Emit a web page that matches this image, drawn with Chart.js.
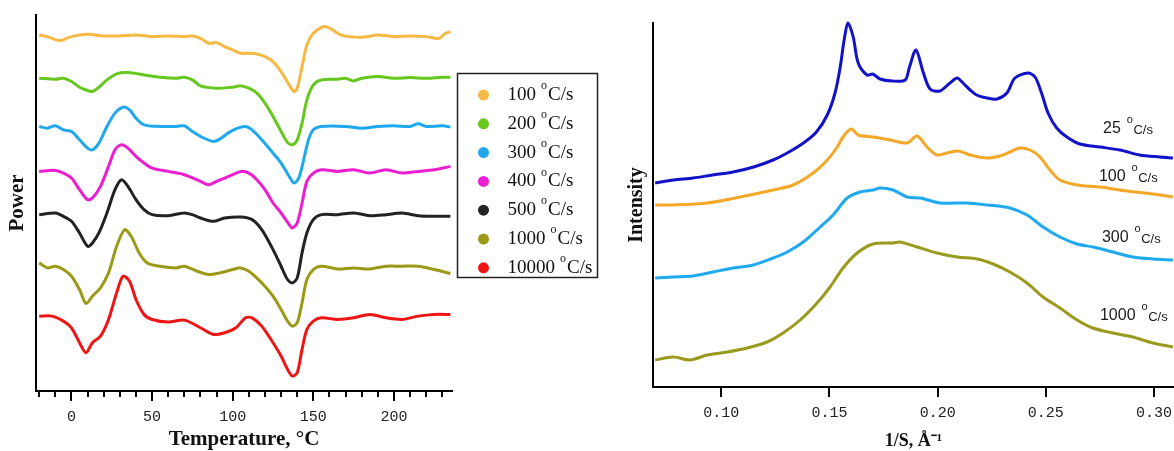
<!DOCTYPE html>
<html><head><meta charset="utf-8">
<script src="https://cdn.jsdelivr.net/npm/chart.js@4.4.1/dist/chart.umd.min.js"></script>
<style>
html,body{margin:0;padding:0;background:#fff;width:1174px;height:451px;overflow:hidden;}
#wl{position:absolute;left:0;top:0;width:600px;height:451px;}
#wr{position:absolute;left:620px;top:0;width:554px;height:451px;}
</style></head><body>
<div id="wl"><canvas id="cl" width="600" height="451"></canvas></div>
<div id="wr"><canvas id="cr" width="554" height="451"></canvas></div>
<script>
// ---------- Left panel: DSC curves (Power vs Temperature) ----------
const rates = ['100','200','300','400','500','1000','10000'];
const t100 = [-20,-15,-7,0,10,20,30,40,50,60,70,75,80,85,90,95,100,105,110,115,120,125,130,135,138,140,143,146,150,155,158,162,167,172,180,190,200,210,220,228,232,235];
const p100 = [1070,1065,1053,1065,1072,1067,1067,1070,1065,1067,1065,1067,1060,1045,1047,1035,1025,1015,1015,1013,1005,990,960,920,900,910,975,1040,1075,1093,1095,1085,1070,1065,1063,1070,1065,1067,1065,1060,1075,1080];
const t200 = [-20,-10,-5,0,5,10,13,17,22,28,35,45,55,65,70,75,80,90,100,105,110,115,120,125,130,134,137,140,143,146,150,155,165,170,175,180,190,200,210,220,230,235];
const p200 = [940,937,940,930,913,903,900,913,935,953,957,950,943,940,943,935,917,910,913,917,910,895,865,825,780,747,740,755,805,875,920,935,937,940,932,940,945,940,942,940,943,943];
const t300 = [-20,-15,-10,-5,0,5,10,13,17,22,27,32,36,40,45,55,65,70,75,80,88,92,97,103,108,112,118,125,130,135,138,141,144,147,150,155,170,180,190,200,210,215,220,230,235];
const p300 = [795,790,797,785,780,755,730,725,745,795,835,853,845,820,800,795,795,797,780,765,750,757,775,790,795,785,755,715,685,645,625,640,695,755,785,795,795,790,795,797,795,803,795,797,793];
const t400 = [-20,-10,-5,0,5,10,13,18,23,27,31,35,40,45,50,60,70,80,85,90,95,100,105,110,115,120,125,130,135,137,140,143,146,150,155,165,175,185,195,205,215,225,235];
const p400 = [660,663,655,640,605,575,580,615,675,725,740,730,705,685,670,660,650,630,620,630,640,650,660,655,635,605,565,535,500,490,505,565,630,655,665,660,665,655,665,655,660,665,675];
const t500 = [-20,-10,-5,0,5,10,13,17,22,27,31,35,40,45,50,60,70,75,80,88,95,105,112,118,125,130,134,137,140,143,146,150,155,165,175,185,195,205,215,225,235];
const p500 = [530,535,525,510,475,435,445,475,535,605,635,615,575,545,530,527,535,530,520,510,520,523,515,485,425,375,335,325,340,415,475,515,530,530,535,527,530,535,527,525,525];
const t1000 = [-20,-15,-10,-5,0,5,9,13,18,23,28,33,37,42,47,55,65,70,78,85,92,100,105,110,118,125,130,134,137,140,143,146,150,155,165,175,185,195,205,215,225,235];
const p1000 = [385,370,375,365,345,305,263,285,310,355,435,485,465,415,385,375,370,375,360,350,355,365,370,360,325,285,245,210,195,205,265,335,365,375,367,370,367,375,375,375,365,353];
const t10000 = [-20,-12,-5,0,5,9,13,18,23,28,32,36,40,45,50,60,70,80,88,95,102,108,112,118,125,130,134,137,140,143,146,150,155,165,175,185,195,205,215,225,235];
const p10000 = [225,225,210,190,145,115,145,165,215,295,345,330,275,230,215,207,213,190,170,175,190,220,220,195,145,105,65,45,55,125,185,210,220,215,220,230,220,215,225,230,230];
const tempTicks = [0,50,100,150,200];

// ---------- Right panel: X-ray intensity vs 1/S ----------
const waxsRates = ['25','100','300','1000'];
const s25 = [0.0695,0.078,0.087,0.096,0.1055,0.115,0.124,0.1305,0.138,0.144,0.149,0.1526,0.155,0.1568,0.1586,0.161,0.1633,0.1674,0.170,0.1734,0.179,0.185,0.187,0.190,0.1933,0.1965,0.201,0.2057,0.209,0.2117,0.215,0.218,0.2228,0.2274,0.232,0.2357,0.2417,0.245,0.248,0.251,0.255,0.2597,0.2657,0.275,0.2842,0.2934,0.3027,0.3087];
const i25 = [204,207,209,212,215,220,227,234,244,255,272,294,320,347,364,350,324,312,313,308,306,307,320,337,315,298,296,304,309,304,297,292,289,288,294,309,314,310,294,274,259,250,243,240,237,232,230,229];
const s100 = [0.0695,0.0778,0.0935,0.1088,0.124,0.1332,0.1425,0.149,0.1536,0.1563,0.160,0.1633,0.1702,0.178,0.1859,0.1905,0.1951,0.1997,0.2043,0.2094,0.215,0.2228,0.2288,0.2334,0.238,0.2427,0.2473,0.2519,0.2565,0.2644,0.275,0.2874,0.2994,0.3087];
const i100 = [182,182,184,190,197,202,214,227,240,250,258,252,250,247,244,251,240,232,234,236,232,229,231,235,239,237,230,217,207,202,200,196,193,190];
const s300 = [0.0695,0.0778,0.087,0.0963,0.1055,0.1148,0.124,0.1305,0.1379,0.1457,0.1517,0.1582,0.1642,0.1702,0.1734,0.1794,0.1859,0.1919,0.2011,0.2136,0.2228,0.2334,0.2413,0.2487,0.2565,0.2644,0.2717,0.281,0.2902,0.2994,0.3087];
const i300 = [109,110,111,115,119,122,129,135,145,160,172,189,195,197,199,197,190,189,184,184,182,179,172,160,150,143,140,135,130,128,127];
const s1000 = [0.0695,0.0778,0.0857,0.0935,0.1028,0.112,0.1212,0.1286,0.1365,0.1443,0.1503,0.1563,0.1628,0.1702,0.1794,0.1826,0.1905,0.1997,0.209,0.2182,0.2256,0.2334,0.2413,0.2487,0.2565,0.2644,0.2717,0.281,0.2902,0.2994,0.3087];
const i1000 = [27,30,27,32,35,39,45,54,67,84,100,119,134,143,144,145,140,134,130,128,123,115,104,90,79,67,59,54,50,44,40];
const sTicks = [0.10,0.15,0.20,0.25,0.30];

const pts = (xs, ys) => xs.map((x, i) => ({x: x, y: ys[i]}));

// ---------- plugins ----------
const boxLegend = {
  id: 'boxLegend',
  afterDraw(chart, args, o) {
    const ctx = chart.ctx;
    ctx.save();
    ctx.strokeStyle = '#222'; ctx.lineWidth = 1.5;
    ctx.strokeRect(o.x, o.y, o.w, o.h);
    ctx.textBaseline = 'middle';
    chart.data.datasets.forEach((ds, i) => {
      const cy = o.y + o.first + i * o.step;
      ctx.fillStyle = ds.borderColor;
      ctx.beginPath(); ctx.arc(o.x + o.dot, cy, 5.5, 0, Math.PI * 2); ctx.fill();
      ctx.fillStyle = '#111';
      let x = o.x + o.text;
      ctx.font = '19px "Liberation Serif"';
      ctx.fillText(ds.rate, x, cy);
      x += ctx.measureText(ds.rate).width + 5;
      ctx.font = '12px "Liberation Serif"';
      ctx.fillText('o', x, cy - 9);
      x += ctx.measureText('o').width + 1;
      ctx.font = '19px "Liberation Serif"';
      ctx.fillText('C/s', x, cy);
    });
    ctx.restore();
  }
};

const minorTicks = {
  id: 'minorTicks',
  afterDraw(chart, args, o) {
    const xs = chart.scales.x, ctx = chart.ctx;
    ctx.save();
    ctx.strokeStyle = '#000'; ctx.lineWidth = 2;
    for (let v = o.from; v <= o.to; v += o.step) {
      if (v % 50 === 0) continue;
      const px = Math.round(xs.getPixelForValue(v));
      ctx.beginPath(); ctx.moveTo(px, xs.top); ctx.lineTo(px, xs.top + o.len); ctx.stroke();
    }
    ctx.restore();
  }
};

const curveLabels = {
  id: 'curveLabels',
  afterDraw(chart, args, o) {
    const ctx = chart.ctx, xs = chart.scales.x, ys = chart.scales.y;
    ctx.save();
    ctx.fillStyle = '#1a1a1a';
    ctx.textBaseline = 'middle';
    chart.data.datasets.forEach((ds, i) => {
      let x = xs.getPixelForValue(o.xs[i]);
      const y = ys.getPixelForValue(o.ys[i]);
      ctx.font = '16px "Liberation Sans"';
      ctx.fillText(ds.rate, x, y);
      x += ctx.measureText(ds.rate).width + 6;
      ctx.font = '11px "Liberation Sans"';
      ctx.fillText('o', x, y - 9);
      x += ctx.measureText('o').width + 0.5;
      ctx.font = '13px "Liberation Sans"';
      ctx.fillText('C/s', x, y + 1);
    });
    ctx.restore();
  }
};

// ---------- left chart ----------
const leftColors = ['#F6B944','#66C71E','#1FA8EE','#EC1FD0','#222222','#9A9A17','#EE1515'];
const leftSeries = [[t100,p100],[t200,p200],[t300,p300],[t400,p400],[t500,p500],[t1000,p1000],[t10000,p10000]];

new Chart(document.getElementById('cl'), {
  type: 'line',
  data: {
    datasets: leftSeries.map((s, i) => ({
      label: rates[i] + ' °C/s', rate: rates[i],
      data: pts(s[0], s[1]),
      borderColor: leftColors[i], backgroundColor: leftColors[i],
      borderWidth: 3, pointRadius: 0, fill: false,
      tension: 0.3, clip: 4
    }))
  },
  options: {
    responsive: false, animation: false, devicePixelRatio: 1,
    layout: {padding: {top: 15, right: 148, left: 0, bottom: 0}},
    plugins: {
      legend: {display: false}, tooltip: {enabled: false},
      boxLegend: {x: 457.5, y: 73.5, w: 140, h: 204, first: 21.5, step: 28.8, dot: 26, text: 50},
      minorTicks: {from: -20, to: 230, step: 10, len: 6}
    },
    scales: {
      x: {
        type: 'linear', min: -22, max: 236,
        afterBuildTicks: (sc) => { sc.ticks = tempTicks.map(v => ({value: v})); },
        afterFit: (sc) => { sc.height = 60; },
        border: {display: true, color: '#000', width: 2},
        grid: {display: true, drawOnChartArea: false, drawTicks: true, tickLength: 10, color: '#000', lineWidth: 2},
        ticks: {color: '#222', font: {family: '"Liberation Mono"', size: 15}, padding: 7, maxRotation: 0,
                callback: (v) => String(v)},
        title: {display: true, text: 'Temperature, °C', color: '#111',
                font: {family: '"Liberation Serif"', size: 21, weight: 'bold', lineHeight: 1.1}, padding: {top: 0, bottom: 0}}
      },
      y: {
        type: 'linear', min: 0, max: 1130,
        afterFit: (sc) => { sc.width = 36; },
        border: {display: true, color: '#000', width: 2},
        grid: {display: false},
        ticks: {display: false},
        title: {display: true, text: 'Power', color: '#111',
                font: {family: '"Liberation Serif"', size: 21, weight: 'bold', lineHeight: 1.1}, padding: {top: 6, bottom: 0}}
      }
    }
  },
  plugins: [boxLegend, minorTicks]
});

// ---------- right chart ----------
const rightColors = ['#1212C8','#F5A828','#1FAAF0','#9A9A1E'];
const rightSeries = [[s25,i25],[s100,i100],[s300,i300],[s1000,i1000]];

new Chart(document.getElementById('cr'), {
  type: 'line',
  data: {
    datasets: rightSeries.map((s, i) => ({
      label: waxsRates[i] + ' °C/s', rate: waxsRates[i],
      data: pts(s[0], s[1]),
      borderColor: rightColors[i], backgroundColor: rightColors[i],
      borderWidth: 3, pointRadius: 0, fill: false,
      tension: 0.3, clip: 4
    }))
  },
  options: {
    responsive: false, animation: false, devicePixelRatio: 1,
    layout: {padding: {top: 23, right: 0, left: 0, bottom: 0}},
    plugins: {
      legend: {display: false}, tooltip: {enabled: false},
      curveLabels: {xs: [0.2764, 0.2745, 0.2759, 0.2750], ys: [258, 210, 149, 71]}
    },
    scales: {
      x: {
        type: 'linear', min: 0.0685, max: 0.3092,
        afterBuildTicks: (sc) => { sc.ticks = sTicks.map(v => ({value: v})); },
        afterFit: (sc) => { sc.height = 64; sc.paddingRight = 0; sc.paddingLeft = 0; },
        border: {display: true, color: '#000', width: 2},
        grid: {display: true, drawOnChartArea: false, drawTicks: true, tickLength: 10, color: '#000', lineWidth: 2},
        ticks: {color: '#222', font: {family: '"Liberation Mono"', size: 15}, padding: 7, maxRotation: 0,
                callback: (v) => Number(v).toFixed(2)},
        title: {display: true, text: '1/S, Å⁻¹', color: '#111',
                font: {family: '"Liberation Serif"', size: 18, weight: 'bold', lineHeight: 1.1}, padding: {top: 0, bottom: 0}}
      },
      y: {
        type: 'linear', min: 0, max: 364,
        afterFit: (sc) => { sc.width = 33; },
        border: {display: true, color: '#000', width: 2},
        grid: {display: false},
        ticks: {display: false},
        title: {display: true, text: 'Intensity', color: '#111',
                font: {family: '"Liberation Serif"', size: 20, weight: 'bold', lineHeight: 1.1}, padding: {top: 6, bottom: 0}}
      }
    }
  },
  plugins: [curveLabels]
});
</script>
</body></html>
